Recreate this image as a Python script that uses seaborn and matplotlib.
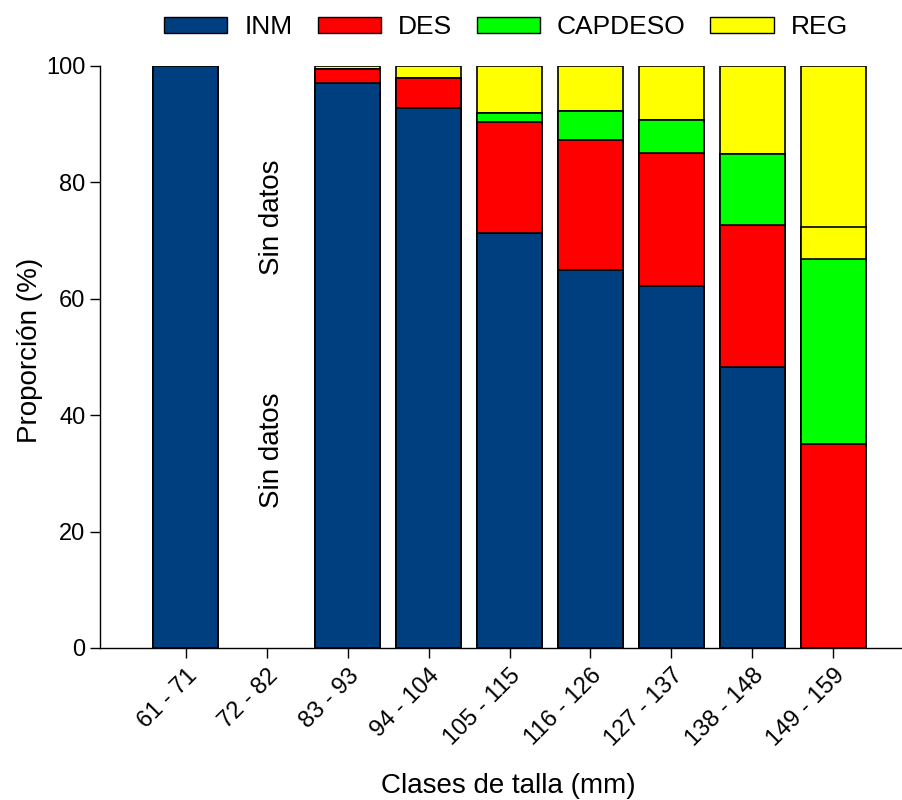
import numpy as np
import pandas as pd
import matplotlib
matplotlib.use("Agg")
import matplotlib.pyplot as plt
from matplotlib.patches import Patch
import seaborn as sns

# Size classes and share (%) of each maturity stage per class
clases = ['61 - 71', '72 - 82', '83 - 93', '94 - 104', '105 - 115',
          '116 - 126', '127 - 137', '138 - 148', '149 - 159']
inm = [100.0, np.nan, 97.1, 92.7, 71.3, 64.9, 62.2, 48.3, 0.0]
des = [0.0, np.nan, 2.3, 5.2, 19.1, 22.4, 22.9, 24.4, 35.0]
capdeso = [0.0, np.nan, 0.1, 0.0, 1.6, 5.0, 5.7, 12.2, 31.9]
reg_a = [0.0, np.nan, 0.0, 0.0, 0.0, 0.0, 0.0, 0.0, 5.5]
reg = [0.0, np.nan, 0.5, 2.1, 8.0, 7.7, 9.2, 15.1, 27.6]

colores = {'INM': '#003F7F', 'DES': '#FF0000', 'CAPDESO': '#00FF00', 'REG': '#FFFF00'}

sns.set_style("ticks")
plt.rcParams['font.family'] = ['Liberation Sans', 'DejaVu Sans']
plt.rcParams['text.color'] = 'black'
plt.rcParams['axes.labelcolor'] = 'black'

df = pd.DataFrame({'clase': clases, 'INM': inm, 'DES': des,
                   'CAPDESO': capdeso, 'REG_A': reg_a, 'REG': reg})
# cumulative tops, drawn from the tallest down so each layer covers the previous
df['c_inm'] = df['INM']
df['c_des'] = df['c_inm'] + df['DES']
df['c_cap'] = df['c_des'] + df['CAPDESO']
df['c_rega'] = df['c_cap'] + df['REG_A']
df['c_reg'] = df['c_rega'] + df['REG']

fig = plt.figure(figsize=(9.02, 8), dpi=100)
ax = fig.add_axes([0.111, 0.19, 0.889, 0.7275])

capas = [('c_reg', colores['REG']), ('c_rega', colores['REG']),
         ('c_cap', colores['CAPDESO']), ('c_des', colores['DES']),
         ('c_inm', colores['INM'])]
for col, color in capas:
    sns.barplot(data=df, x='clase', y=col, order=clases, color=color,
                saturation=1, edgecolor='black', linewidth=1.2,
                width=0.805, errorbar=None, ax=ax)

ax.set_xlim(-1.06, 8.85)
ax.set_ylim(0, 100)
ax.set_yticks([0, 20, 40, 60, 80, 100])
ax.tick_params(axis='both', direction='out', length=7, width=1, colors='black', labelsize=17)
ax.tick_params(axis='x', pad=5)
plt.setp(ax.get_xticklabels(), rotation=45, ha='right', rotation_mode='anchor')
for s in ['top', 'right']:
    ax.spines[s].set_visible(False)
for s in ['left', 'bottom']:
    ax.spines[s].set_linewidth(1)
    ax.spines[s].set_color('black')

ax.set_xlabel('Clases de talla (mm)', fontsize=20, color='black')
ax.xaxis.label.set_va('center')
ax.xaxis.set_label_coords(0.509, -0.237)
ax.set_ylabel('Proporción (%)', fontsize=20, color='black')
ax.yaxis.label.set_va('center')
ax.yaxis.set_label_coords(-0.087, 0.512)

ax.text(1.06, 74, 'Sin datos', rotation=90, ha='center', va='center', fontsize=20, color='black')
ax.text(1.06, 34, 'Sin datos', rotation=90, ha='center', va='center', fontsize=20, color='black')

handles = [Patch(facecolor=colores[k], edgecolor='black', linewidth=1, label=k)
           for k in ['INM', 'DES', 'CAPDESO', 'REG']]
leg = fig.legend(handles=handles, loc='center', bbox_to_anchor=(0.561, 0.966), ncol=4,
                 frameon=False, fontsize=19, handlelength=2.39, handleheight=0.6,
                 handletextpad=0.64, columnspacing=0.95)
for t in leg.get_texts():
    t.set_color('black')

fig.savefig('out.png', dpi=100)
